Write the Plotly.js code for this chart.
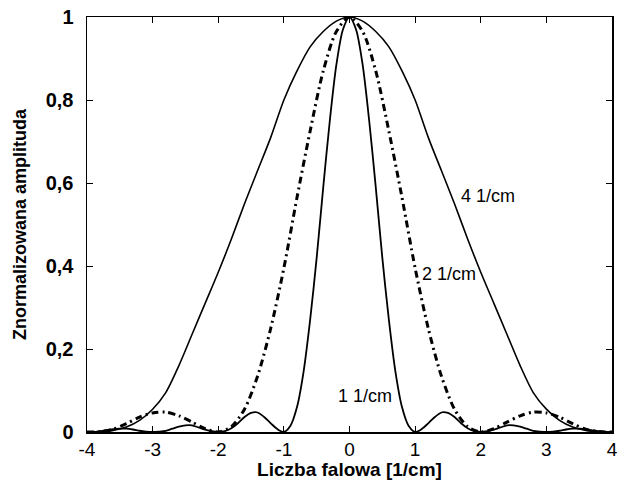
<!DOCTYPE html>
<html>
<head>
<meta charset="utf-8">
<script src="https://cdn.plot.ly/plotly-3.0.1.min.js"></script>
<style>html,body{margin:0;padding:0;background:#fff;}#chart{width:618px;height:480px;}</style>
</head>
<body>
<div id="chart"></div>
<script>
// Wave number grids
const xCoarse = [-4,-3.8,-3.6,-3.4,-3.2,-3,-2.8,-2.6,-2.4,-2.2,-2,-1.8,-1.6,-1.4,-1.2,-1,-0.8,-0.6,-0.4,-0.2,0,
  0.2,0.4,0.6,0.8,1,1.2,1.4,1.6,1.8,2,2.2,2.4,2.6,2.8,3,3.2,3.4,3.6,3.8,4];
const xFine = [-4,-3.9,-3.8,-3.7,-3.6,-3.5,-3.4,-3.3,-3.2,-3.1,-3,-2.9,-2.8,-2.7,-2.6,-2.5,-2.4,-2.3,-2.2,-2.1,
  -2,-1.9,-1.8,-1.7,-1.6,-1.5,-1.4,-1.3,-1.2,-1.1,-1,-0.9,-0.8,-0.7,-0.6,-0.5,-0.4,-0.3,-0.2,-0.1,0,
  0.1,0.2,0.3,0.4,0.5,0.6,0.7,0.8,0.9,1,1.1,1.2,1.3,1.4,1.5,1.6,1.7,1.8,1.9,2,
  2.1,2.2,2.3,2.4,2.5,2.6,2.7,2.8,2.9,3,3.1,3.2,3.3,3.4,3.5,3.6,3.7,3.8,3.9,4];

// Series: 4 1/cm (wide, solid)
const amp4 = [0,0,0.004,0.012,0.028,0.055,0.095,0.16,0.235,0.31,0.385,0.465,0.55,0.63,0.71,0.8,0.87,0.928,0.965,0.99,1,
  0.99,0.965,0.928,0.87,0.8,0.71,0.63,0.55,0.465,0.385,0.31,0.235,0.16,0.095,0.055,0.028,0.012,0.004,0,0];
// Series: 2 1/cm (dash-dot)
const amp2 = [0,0.001,0.007,0.02,0.036,0.046,0.048,0.039,0.024,0.008,0,0.013,0.055,0.135,0.25,0.395,0.565,0.725,0.87,0.965,1,
  0.965,0.87,0.725,0.565,0.395,0.25,0.135,0.055,0.013,0,0.008,0.024,0.039,0.048,0.046,0.036,0.02,0.007,0.001,0];
// Series: 1 1/cm (narrow, solid)
const amp1 = [0,0,0.002,0.004,0.007,0.008,0.008,0.006,0.003,0.001,
  0,0.001,0.003,0.008,0.013,0.016,0.016,0.011,0.006,0.002,
  0,0.002,0.009,0.021,0.036,0.046,0.047,0.036,0.021,0.007,
  0,0.015,0.06,0.145,0.27,0.42,0.59,0.75,0.885,0.97,
  1,
  0.97,0.885,0.75,0.59,0.42,0.27,0.145,0.06,0.015,0,
  0.007,0.021,0.036,0.047,0.046,0.036,0.021,0.009,0.002,0,
  0.002,0.006,0.011,0.016,0.016,0.013,0.008,0.003,0.001,0,
  0.001,0.003,0.006,0.008,0.008,0.007,0.004,0.002,0,0];

// Tick labels
const xTickVals = [-4,-3,-2,-1,0,1,2,3,4];
const xTickText = ["-4","-3","-2","-1","0","1","2","3","4"];
const yTickVals = [0,0.2,0.4,0.6,0.8,1];
const yTickText = ["0","0,2","0,4","0,6","0,8","1"];

// Curve labels
const labelText = ["4 1/cm","2 1/cm","1 1/cm"];
const labelX = [1.67,1.08,-0.21];
const labelY = [0.568,0.38,0.087];

const font = "Arial, 'Liberation Sans', sans-serif";

const traces = [
  {x:xCoarse, y:amp4, mode:"lines", line:{color:"#000", width:1.6, shape:"spline", smoothing:0.8}, name:"4 1/cm"},
  {x:xCoarse, y:amp2, mode:"lines", line:{color:"#000", width:3, dash:"7px,4px,2px,4px", shape:"spline", smoothing:0.8}, name:"2 1/cm"},
  {x:xFine, y:amp1, mode:"lines", line:{color:"#000", width:1.8, shape:"spline", smoothing:0.8}, name:"1 1/cm"}
];

const layout = {
  width:618, height:480,
  margin:{l:87, r:6, t:17, b:48},
  paper_bgcolor:"#fff", plot_bgcolor:"#fff",
  showlegend:false,
  font:{family:font, color:"#000", size:18},
  xaxis:{
    range:[-4,4], tickvals:xTickVals, ticktext:xTickText,
    ticks:"inside", ticklen:6, tickwidth:1, tickcolor:"#000",
    showline:true, linecolor:"#000", linewidth:1.5, mirror:"ticks",
    showgrid:false, zeroline:false, automargin:false,
    ticklabeloverflow:"allow",
    tickfont:{family:font, size:19, color:"#000"},
    ticklabelstandoff:0,
    title:{text:"<b>Liczba falowa [1/cm]</b>", font:{family:font, size:19, color:"#000"}, standoff:8}
  },
  yaxis:{
    range:[0,1], tickvals:yTickVals, ticktext:yTickText.map(t=>"<b>"+t+"</b>"),
    ticks:"inside", ticklen:6, tickwidth:1, tickcolor:"#000",
    showline:true, linecolor:"#000", linewidth:1.5, mirror:"ticks",
    showgrid:false, zeroline:false, automargin:false,
    ticklabeloverflow:"allow",
    tickfont:{family:font, size:20, color:"#000"},
    ticklabelstandoff:8,
    title:{text:"<b>Znormalizowana amplituda</b>", font:{family:font, size:18, color:"#000"}, standoff:14}
  },
  annotations: labelText.map((t,i)=>({
    x:labelX[i], y:labelY[i], xref:"x", yref:"y", text:t, showarrow:false,
    xanchor:"left", yanchor:"middle", font:{family:font, size:18, color:"#000"}
  }))
};

Plotly.newPlot("chart", traces, layout, {displayModeBar:false, staticPlot:true});
</script>
</body>
</html>
